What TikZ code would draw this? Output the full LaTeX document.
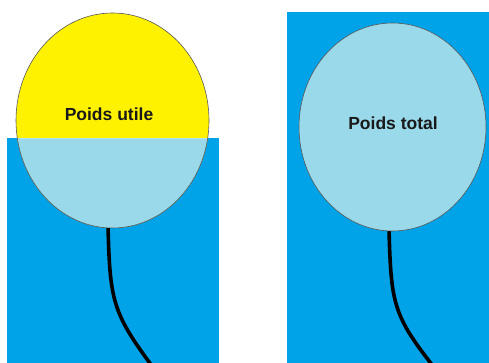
\documentclass[tikz,border=0pt]{standalone}
\usepackage{fontspec}
\setmainfont{Liberation Sans}
\usetikzlibrary{shapes.geometric}
\definecolor{water}{HTML}{00A2E8}
\definecolor{hull}{HTML}{99D9EA}
\definecolor{payload}{HTML}{FFF200}
\tikzset{
  tank/.style={fill=water, draw=none},
  float/.style={ellipse, inner sep=0pt, draw=black!65, line width=0.6pt},
  caption/.style={font=\bfseries\fontsize{17.5}{20}\selectfont, text=black!90, inner sep=0pt},
  rope/.style={draw=black, line width=3.6pt, line cap=round},
}
\begin{document}
\begin{tikzpicture}[x=1pt, y=-1pt]
  \useasboundingbox (0,0) rectangle (489,363);
  \fill[white] (0,0) rectangle (489,363);

  % left panel: float partly above the water line
  \fill[tank] (7,138) rectangle (219,366);
  \draw[rope] (108,226) .. controls (110,300) and (112,312) .. (152,366);
  \node[float, minimum width=193pt, minimum height=215pt,
        path picture={
          \fill[payload] (path picture bounding box.north west) rectangle (path picture bounding box.south east);
          \fill[hull] ([yshift=-17.5pt]path picture bounding box.west) rectangle (path picture bounding box.south east);
          \draw[white!70!water, line width=0.6pt] ([yshift=-17.5pt]path picture bounding box.west) -- ([yshift=-17.5pt]path picture bounding box.east);
        }] (floatA) at (112.5,120.5) {};
  \node[caption] (labelA) at (109,114) {Poids utile};

  % right panel: float fully submerged
  \fill[tank] (287,12) rectangle (492,366);
  \draw[rope] (389,229) .. controls (391,303) and (393,315) .. (433,366);
  \node[float, fill=hull, minimum width=187pt, minimum height=208pt] (floatB) at (392.5,127) {};
  \node[caption] (labelB) at (393,123.5) {Poids total};
\end{tikzpicture}
\end{document}
